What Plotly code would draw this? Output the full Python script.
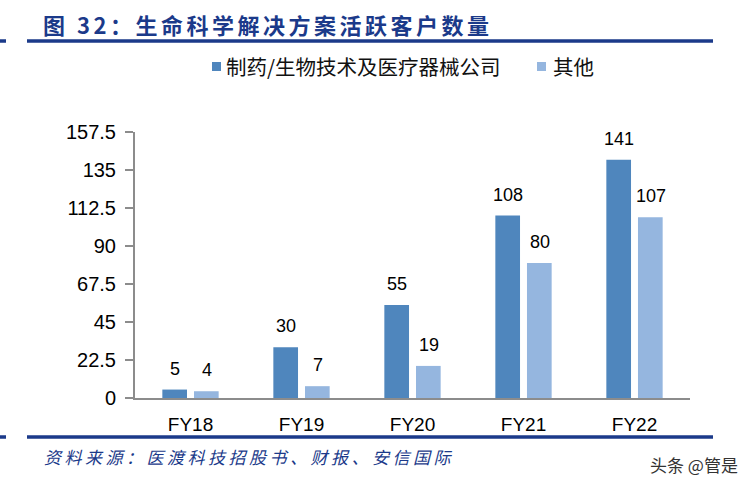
import plotly.graph_objects as go

categories = ["FY18", "FY19", "FY20", "FY21", "FY22"]
pharma = [5, 30, 55, 108, 141]
others = [4, 7, 19, 80, 107]
series_names = ["制药/生物技术及医疗器械公司", "其他"]
tick_vals = [0, 22.5, 45, 67.5, 90, 112.5, 135, 157.5]
tick_text = ["0", "22.5", "45", "67.5", "90", "112.5", "135", "157.5"]

C1 = "#4F86BD"
C2 = "#95B6DF"
NAVY = "#1B3A8A"
FONT = "Arial, Liberation Sans, Noto Sans CJK SC, sans-serif"
CJK = "Noto Sans CJK SC, Arial"

L, R, T, B = 135, 690, 132, 398
W, H = 756, 485


def px(x):
    return (x - L) / (R - L)


def py(y):
    return (B - y) / (B - T)


fig = go.Figure()
fig.add_trace(go.Bar(x=categories, y=pharma, name=series_names[0], marker=dict(color=C1, line=dict(width=0))))
fig.add_trace(go.Bar(x=categories, y=others, name=series_names[1], marker=dict(color=C2, line=dict(width=0))))

annotations = []
for vals, dx in ((pharma, -16), (others, 16)):
    for c, v in zip(categories, vals):
        annotations.append(dict(x=c, y=v, xref="x", yref="y", text=str(v), showarrow=False,
                                xshift=dx, yshift=9, yanchor="bottom",
                                font=dict(size=18, color="#000", family=FONT)))

# title
annotations.append(dict(x=px(41), y=py(24), xref="paper", yref="paper", xanchor="left", yanchor="middle",
                        text="<b><span style='letter-spacing:3.5px'>图 32：生命科学解决方案活跃客户数量</span></b>",
                        showarrow=False, font=dict(size=22, color=NAVY, family=CJK)))
# legend text
annotations.append(dict(x=px(224), y=py(66), xref="paper", yref="paper", xanchor="left", yanchor="middle",
                        text=series_names[0], showarrow=False,
                        font=dict(size=20.5, color="#111", family=CJK)))
annotations.append(dict(x=px(551), y=py(66), xref="paper", yref="paper", xanchor="left", yanchor="middle",
                        text=series_names[1], showarrow=False,
                        font=dict(size=20.5, color="#111", family=CJK)))
# source
annotations.append(dict(x=px(42), y=py(456), xref="paper", yref="paper", xanchor="left", yanchor="middle",
                        text="<i><span style='letter-spacing:3.5px'>资料来源：医渡科技招股书、财报、安信国际</span></i>",
                        showarrow=False, font=dict(size=17, color=NAVY, family=CJK)))
# watermark
annotations.append(dict(x=px(648), y=py(464), xref="paper", yref="paper", xanchor="left", yanchor="middle",
                        text="头条 @管是", showarrow=False,
                        font=dict(size=17, color="#333", family=CJK)))

shapes = []
for yy in (41, 437):
    shapes.append(dict(type="line", xref="paper", yref="paper", x0=px(27), x1=px(713), y0=py(yy), y1=py(yy),
                       line=dict(color=NAVY, width=3.5)))
    shapes.append(dict(type="line", xref="paper", yref="paper", x0=px(0), x1=px(6), y0=py(yy), y1=py(yy),
                       line=dict(color=NAVY, width=3.5)))
# legend squares
for x0, col in ((212, C1), (537, C2)):
    shapes.append(dict(type="rect", xref="paper", yref="paper", x0=px(x0), x1=px(x0 + 9), y0=py(71), y1=py(62),
                       line=dict(width=0), fillcolor=col))

fig.update_layout(
    width=W, height=H,
    margin=dict(l=L, r=W - R, t=T, b=H - B),
    paper_bgcolor="white", plot_bgcolor="white",
    barmode="group", bargap=0.43, bargroupgap=0.22,
    showlegend=False,
    font=dict(family=FONT, size=18, color="#000"),
    annotations=annotations, shapes=shapes,
)
fig.update_xaxes(showline=True, linecolor="#8C8C8C", linewidth=2, ticks="", showgrid=False,
                 tickfont=dict(size=19, color="#000"), ticklabelstandoff=8)
fig.update_yaxes(range=[0, 157.5], tickvals=tick_vals, ticktext=tick_text, showline=True,
                 linecolor="#8C8C8C", linewidth=2, ticks="outside", ticklen=8, tickcolor="#8C8C8C",
                 tickwidth=2, showgrid=False, zeroline=False, tickfont=dict(size=20, color="#000"),
                 ticklabelstandoff=5)

fig.write_html("out.html")
